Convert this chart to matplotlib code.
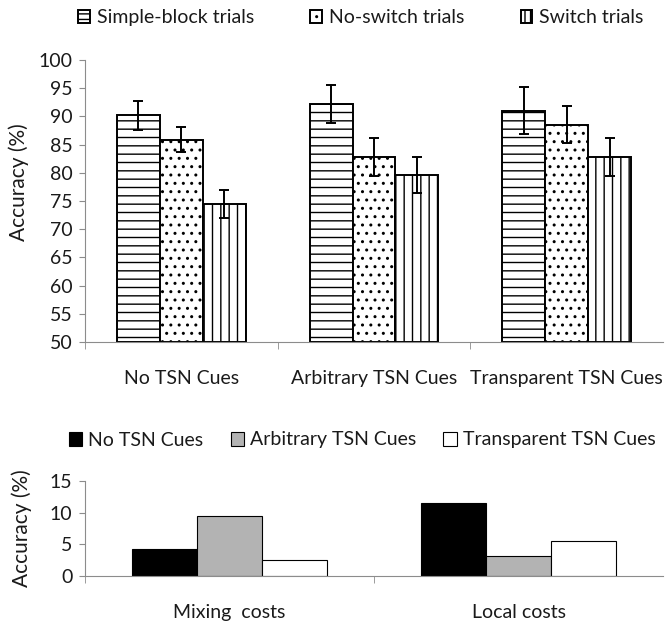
import numpy as np
import matplotlib.pyplot as plt
from matplotlib.patches import Patch

plt.rcParams['font.family'] = ['Lato', 'DejaVu Sans']
plt.rcParams['hatch.linewidth'] = 1.0

# top panel data
cues = ["No TSN Cues", "Arbitrary TSN Cues", "Transparent TSN Cues"]
trial_types = ["Simple-block trials", "No-switch trials", "Switch trials"]
simple_block = [90.2, 92.2, 91.0]
no_switch = [85.9, 82.8, 88.5]
switch = [74.5, 79.6, 82.8]
simple_block_err = [2.6, 3.3, 4.2]
no_switch_err = [2.3, 3.4, 3.3]
switch_err = [2.5, 3.2, 3.4]

# bottom panel data
cost_types = ["Mixing  costs", "Local costs"]
no_tsn_cost = [4.2, 11.6]
arbitrary_cost = [9.4, 3.1]
transparent_cost = [2.5, 5.6]

axis_gray = "#8c8c8c"
txt = "#1a1a1a"
fig = plt.figure(figsize=(6.72, 6.29), dpi=100)

ax1 = fig.add_axes([85 / 672, 1 - 342 / 629, 578 / 672, 282 / 629])
x = np.arange(len(cues))
w = 0.223
hatches = ["--", "..", "||"]
series = [simple_block, no_switch, switch]
errs = [simple_block_err, no_switch_err, switch_err]
for i, (vals, err, h) in enumerate(zip(series, errs, hatches)):
    ax1.bar(x + (i - 1) * w, np.array(vals) - 50, w, bottom=50, color="white",
            edgecolor="black", hatch=h, linewidth=1.4, label=trial_types[i])
    ax1.errorbar(x + (i - 1) * w, vals, yerr=err, fmt="none", ecolor="black",
                 elinewidth=1.4, capsize=3.5, capthick=1.4)
ax1.set_xlim(-0.5, 2.5)
ax1.set_ylim(50, 100)
ax1.set_yticks(range(50, 101, 5))
ax1.set_ylabel("Accuracy (%)", fontsize=15, color=txt)
ax1.yaxis.set_label_coords(-0.097, 0.566)
ax1.set_xticks(x)
ax1.set_xticklabels(cues, fontsize=14, color=txt)
ax1.set_xticks([-0.5, 0.5, 1.5], minor=True)
ax1.tick_params(axis="x", which="major", length=0, pad=20)
ax1.tick_params(axis="x", which="minor", length=5, color=axis_gray)
ax1.tick_params(axis="y", labelsize=14, labelcolor=txt, length=4, color=axis_gray, pad=5)
for s in ["top", "right"]:
    ax1.spines[s].set_visible(False)
for s in ["left", "bottom"]:
    ax1.spines[s].set_color(axis_gray)

handles = [Patch(facecolor="white", edgecolor="black", linewidth=1.4, hatch=h, label=t)
           for h, t in zip(["---", "..", "|||"], trial_types)]
leg1 = fig.legend(handles=handles, loc="center", bbox_to_anchor=(0.537, 0.972), ncol=3,
                  frameon=False, fontsize=14, handlelength=0.6, handleheight=0.7,
                  handletextpad=0.35, columnspacing=2.9)
for t in leg1.get_texts():
    t.set_color(txt)

ax2 = fig.add_axes([85 / 672, 1 - 576 / 629, 578 / 672, 95 / 629])
x2 = np.arange(len(cost_types))
w2 = 0.225
colors = ["black", "#b3b3b3", "white"]
names = cues
for i, (vals, c) in enumerate(zip([no_tsn_cost, arbitrary_cost, transparent_cost], colors)):
    ax2.bar(x2 + (i - 1) * w2, vals, w2, color=c, edgecolor="black", linewidth=0.8,
            label=names[i])
ax2.set_xlim(-0.5, 1.5)
ax2.set_ylim(0, 15)
ax2.set_yticks([0, 5, 10, 15])
ax2.set_ylabel("Accuracy (%)", fontsize=15, color=txt)
ax2.yaxis.set_label_coords(-0.092, 0.5)
ax2.set_xticks(x2)
ax2.set_xticklabels(cost_types, fontsize=14, color=txt)
ax2.set_xticks([-0.5, 0.5], minor=True)
ax2.tick_params(axis="x", which="major", length=0, pad=20)
ax2.tick_params(axis="x", which="minor", length=5, color=axis_gray)
ax2.tick_params(axis="y", labelsize=14, labelcolor=txt, length=4, color=axis_gray, pad=5)
for s in ["top", "right"]:
    ax2.spines[s].set_visible(False)
for s in ["left", "bottom"]:
    ax2.spines[s].set_color(axis_gray)

h2 = [Patch(facecolor=c, edgecolor="black", linewidth=0.8, label=n) for c, n in zip(colors, names)]
leg2 = fig.legend(handles=h2, loc="center", bbox_to_anchor=(0.539, 1 - 440 / 629), ncol=3,
                  frameon=False, fontsize=14, handlelength=0.7, handleheight=0.7,
                  handletextpad=0.3, columnspacing=1.4)
for t in leg2.get_texts():
    t.set_color(txt)

fig.savefig("out.png", dpi=100)
